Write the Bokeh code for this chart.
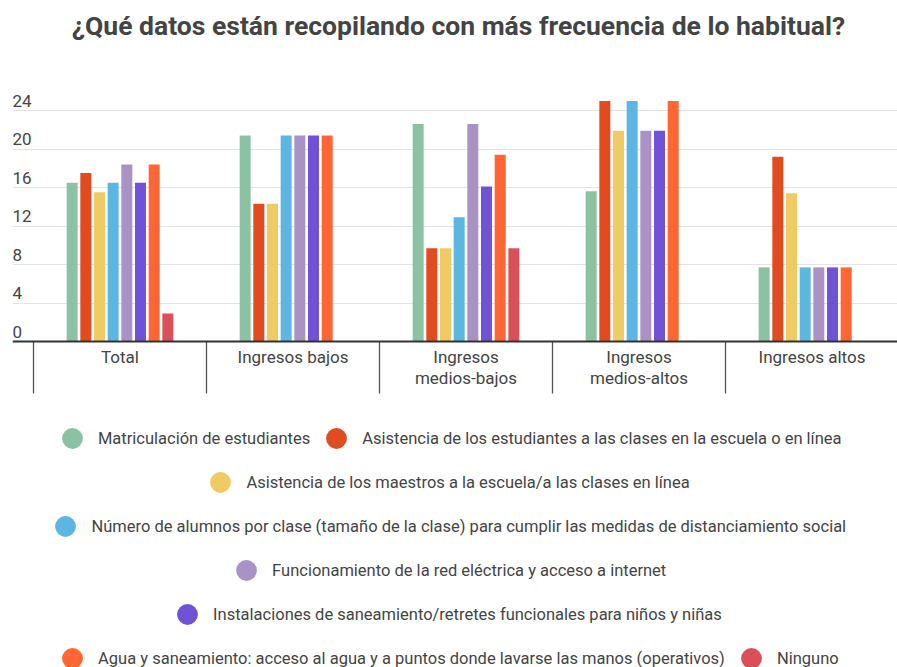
from bokeh.plotting import figure
from bokeh.models import (ColumnDataSource, Range1d, FixedTicker, Grid, Span,
                          Label, Legend, LegendItem)
from bokeh.transform import dodge
from bokeh.core.properties import value
from bokeh.embed import file_html
from bokeh.resources import INLINE

# ---------------- data ----------------
title_text = "¿Qué datos están recopilando con más frecuencia de lo habitual?"
categories = ["Total", "Ingresos bajos", "Ingresos\nmedios-bajos",
              "Ingresos\nmedios-altos", "Ingresos altos"]
series_labels = [
    "Matriculación de estudiantes",
    "Asistencia de los estudiantes a las clases en la escuela o en línea",
    "Asistencia de los maestros a la escuela/a las clases en línea",
    "Número de alumnos por clase (tamaño de la clase) para cumplir las medidas de distanciamiento social",
    "Funcionamiento de la red eléctrica y acceso a internet",
    "Instalaciones de saneamiento/retretes funcionales para niños y niñas",
    "Agua y saneamiento: acceso al agua y a puntos donde lavarse las manos (operativos)",
    "Ninguno",
]
matriculacion = [16.5, 21.4, 22.6, 15.6, 7.7]
asistencia_estudiantes = [17.5, 14.3, 9.7, 25.0, 19.2]
asistencia_maestros = [15.5, 14.3, 9.7, 21.9, 15.4]
alumnos_por_clase = [16.5, 21.4, 12.9, 25.0, 7.7]
red_electrica = [18.4, 21.4, 22.6, 21.9, 7.7]
saneamiento = [16.5, 21.4, 16.1, 21.9, 7.7]
agua = [18.4, 21.4, 19.4, 25.0, 7.7]
ninguno = [2.9, 0.0, 9.7, 0.0, 0.0]
y_ticks = [0, 4, 8, 12, 16, 20, 24]
colors = ["#8cc2a4", "#e04b1f", "#f0ca62", "#5cb6e2",
          "#a992c4", "#6f52d6", "#ff6633", "#d9505a"]
legend_rows = [[0, 1], [2], [3], [4], [5], [6, 7]]

series = [matriculacion, asistencia_estudiantes, asistencia_maestros,
          alumnos_por_clase, red_electrica, saneamiento, agua, ninguno]
keys = ["s%d" % i for i in range(len(series))]

# ---------------- layout constants (pixels) ----------------
ORIGIN = 0                            # window offset of the canvas
W, H = 897, 667
FRAME_LEFT = 12                       # window x of frame left
BORDER_LEFT = FRAME_LEFT - ORIGIN
PX_PER_UNIT = 9.625                   # vertical pixels per value unit
ZERO_Y = 341                          # window y of value 0
CAT_PX = 173                          # width of one category
FIRST_CAT_LEFT = 33                   # window x of first category border
SLOT_PX = 13.67
BAR_PX = 11
SEP_PX = 52

y_end = (ZERO_Y - ORIGIN) / PX_PER_UNIT
y_start = y_end - H / PX_PER_UNIT
x_start = -0.5 - (FIRST_CAT_LEFT - FRAME_LEFT) / CAT_PX
x_end = x_start + (W - BORDER_LEFT) / CAT_PX

FONT = "Roboto"
TXT = "#444444"

p = figure(width=W, height=H, output_backend="svg", toolbar_location=None,
           x_range=Range1d(x_start, x_end), y_range=Range1d(y_start, y_end),
           x_axis_type=None, y_axis_type=None, title=None,
           min_border_left=BORDER_LEFT, min_border_right=0,
           min_border_top=0, min_border_bottom=0)
p.outline_line_color = None
p.background_fill_color = "white"
p.border_fill_color = "white"

# horizontal grid lines
grid = Grid(dimension=1, ticker=FixedTicker(ticks=y_ticks[1:]),
            grid_line_color="#e3e3e3", grid_line_width=1)
p.center.append(grid)

# bars
data = {"xi": list(range(len(categories)))}
for k, s in zip(keys, series):
    data[k] = s
src = ColumnDataSource(data)
slot = SLOT_PX / CAT_PX
n = len(series)
for i, k in enumerate(keys):
    p.vbar(x=dodge("xi", (i - (n - 1) / 2) * slot, range=p.x_range),
           top=k, bottom=0, width=BAR_PX / CAT_PX, source=src,
           fill_color=colors[i], line_color=None)

# baseline
p.add_layout(Span(location=0, dimension="width", line_color="#333333",
                  line_width=2))

# category separators
bounds = [i - 0.5 for i in range(len(categories) + 1)]
p.segment(x0=bounds, x1=bounds, y0=[0] * len(bounds),
          y1=[-SEP_PX / PX_PER_UNIT] * len(bounds),
          line_color="#555555", line_width=1.3)

# category labels
p.text(x=list(range(len(categories))), y=[0] * len(categories), text=categories,
       text_align="center", text_baseline="top", y_offset=5,
       text_font=value(FONT), text_font_size="17px", text_color=TXT,
       text_line_height=1.05)

# y tick labels (above the grid lines, left aligned)
p.text(x=[x_start] * len(y_ticks), y=y_ticks, text=[str(t) for t in y_ticks],
       text_align="left", text_baseline="bottom", y_offset=-4,
       text_font=value(FONT), text_font_size="17px", text_color=TXT)

# title
p.add_layout(Label(x=x_start + (458 - FRAME_LEFT) / CAT_PX,
                   y=(ZERO_Y - 25) / PX_PER_UNIT,
                   text=title_text, text_align="center",
                   text_baseline="alphabetic", text_font=FONT,
                   text_font_size="26.5px", text_font_style="bold",
                   text_color=TXT))

# legend: one horizontal legend per row
nan = float("nan")
dummies = [p.scatter(x=[nan], y=[nan], marker="circle", size=10,
                     fill_color=c, line_color=None) for c in colors]
row_centers = [438, 482, 526, 570, 614, 658]
row_circle_left = [61.5, 210, 55, 235.7, 176.7, 61.7]
GLYPH = 52
pad_in = (GLYPH - GLYPH * 0.4) / 2
for row, cy, cl in zip(legend_rows, row_centers, row_circle_left):
    items = [LegendItem(label=series_labels[i], renderers=[dummies[i]])
             for i in row]
    leg = Legend(items=items, orientation="horizontal",
                 location=(cl - pad_in - FRAME_LEFT,
                           (ORIGIN + H) - (cy + GLYPH / 2)),
                 glyph_width=GLYPH, glyph_height=GLYPH,
                 label_standoff=-2, spacing=-3, padding=0, margin=0,
                 border_line_alpha=0, background_fill_alpha=0,
                 label_text_font=FONT, label_text_font_size="16.5px",
                 label_text_color=TXT)
    p.add_layout(leg, "center")

open("out.html", "w").write(file_html(p, INLINE))
